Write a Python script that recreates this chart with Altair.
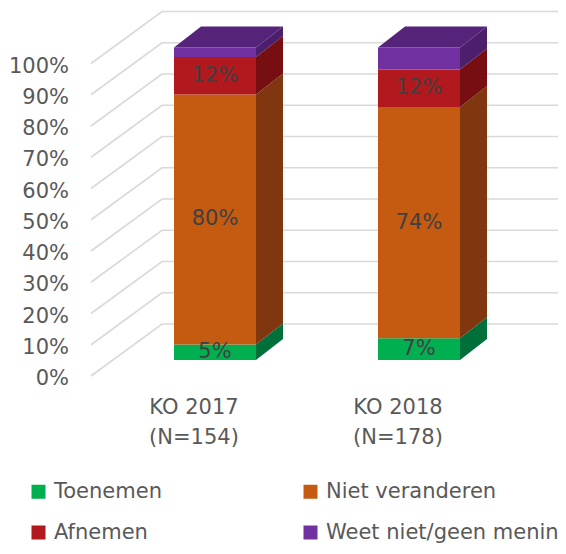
import altair as alt
import pandas as pd

# ---------------- data ----------------
groups = ["KO 2017", "KO 2018"]
n_values = ["(N=154)", "(N=178)"]
series = ["Toenemen", "Niet veranderen", "Afnemen", "Weet niet/geen mening"]
values_2017 = [5, 80, 12, 3]
values_2018 = [7, 74, 12, 7]
labelled = [True, True, True, False]
y_ticks = [0, 10, 20, 30, 40, 50, 60, 70, 80, 90, 100]

front_colors = ["#00B050", "#C55A11", "#B2191E", "#7030A0"]
side_colors = ["#00703A", "#80360E", "#770E12", "#4B1F6C"]
top_colors = ["#008440", "#92410E", "#83121A", "#55247A"]

# legend is laid out column by column: order entries so rows read like the original
legend_order = [0, 2, 1, 3]
legend_domain = [series[i] for i in legend_order]
legend_range = [front_colors[i] for i in legend_order]

# ---------------- layout (view pixels) ----------------
W, H = 550, 538
PPU = 3.125                      # pixels per percent unit
V_MAX = 352 / PPU
V_MIN = V_MAX - H / PPU
BAR_LEFT0, BAR_STEP, BAR_W = 166, 204, 82
DEPTH_X, DEPTH_V = 27, 21 / PPU
FLOOR_FRONT_X, FLOOR_BACK_X = 83, 154
FLOOR_FRONT_V, FLOOR_BACK_V = -16 / PPU, 36 / PPU
LABEL_X = 61
LABEL_SHIFT = -19 / PPU
CAT_OFFSET = -21
FONT = "DejaVu Sans"
FS = 21

all_values = [values_2017, values_2018]

front, side, top, labels, cats = [], [], [], [], []
for gi, g in enumerate(groups):
    left = BAR_LEFT0 + gi * BAR_STEP
    right = left + BAR_W
    lo = 0
    vals = all_values[gi]
    for si, s in enumerate(series):
        hi = lo + vals[si]
        key = f"{g}-{s}"
        front.append(dict(x=left, x2=right, y=lo, y2=hi, series=s))
        side.append(dict(x=right, y=hi, y2=lo, series=s, key=key))
        side.append(dict(x=right + DEPTH_X, y=hi + DEPTH_V, y2=lo + DEPTH_V, series=s, key=key))
        if si == len(series) - 1:
            top.append(dict(y=hi, x=left, x2=right, series=s, key=key))
            top.append(dict(y=hi + DEPTH_V, x=left + DEPTH_X, x2=right + DEPTH_X, series=s, key=key))
        if labelled[si]:
            labels.append(dict(x=(left + right) / 2, y=(lo + hi) / 2, text=f"{vals[si]}%"))
        lo = hi
    cx = (left + right) / 2 + CAT_OFFSET
    cats.append(dict(x=cx, y=-15.36, text=g))
    cats.append(dict(x=cx, y=-24.96, text=n_values[gi]))

grid = []
for t in y_ticks:
    grid.append(dict(x=FLOOR_FRONT_X, y=t + FLOOR_FRONT_V, tick=t, o=0))
    grid.append(dict(x=FLOOR_BACK_X, y=t + FLOOR_BACK_V, tick=t, o=1))
    grid.append(dict(x=W + 20, y=t + FLOOR_BACK_V, tick=t, o=2))
ylabels = [dict(x=LABEL_X, y=t + LABEL_SHIFT, text=f"{t}%") for t in y_ticks]

xs = alt.Scale(domain=[0, W], nice=False, zero=False)
ys = alt.Scale(domain=[V_MIN, V_MAX], nice=False, zero=False)

def X(f="x"):
    return alt.X(f"{f}:Q", scale=xs, axis=None)

def Y(f="y"):
    return alt.Y(f"{f}:Q", scale=ys, axis=None, stack=None)

grid_layer = alt.Chart(pd.DataFrame(grid)).mark_line(
    color="#D9D9D9", strokeWidth=1.6
).encode(x=X(), y=Y(), detail="tick:N", order="o:Q")

front_layer = alt.Chart(pd.DataFrame(front)).mark_rect().encode(
    x=X(), x2="x2:Q", y=Y(), y2="y2:Q",
    color=alt.Color(
        "series:N",
        scale=alt.Scale(domain=legend_domain, range=legend_range),
        legend=alt.Legend(
            title=None, orient="none", legendX=20, legendY=473, columns=2,
            columnPadding=138, rowPadding=19, symbolType="square",
            symbolSize=196, symbolStrokeWidth=0, symbolOpacity=1,
            labelFont=FONT, labelFontSize=FS, labelColor="#595959",
            labelLimit=400, labelOffset=5, padding=0,
        ),
    ),
)

side_layer = alt.Chart(pd.DataFrame(side)).mark_area(orient="vertical").encode(
    x=X(), y=Y(), y2="y2:Q", detail="key:N",
    color=alt.Color("series:N", scale=alt.Scale(domain=series, range=side_colors), legend=None),
)

top_layer = alt.Chart(pd.DataFrame(top)).mark_area(orient="horizontal").encode(
    y=Y(), x=alt.X("x:Q", scale=xs, axis=None, stack=None), x2="x2:Q", detail="key:N",
    color=alt.Color("series:N", scale=alt.Scale(domain=series, range=top_colors), legend=None),
)

label_layer = alt.Chart(pd.DataFrame(labels)).mark_text(
    font=FONT, fontSize=FS, color="#404040", align="center", baseline="middle"
).encode(x=X(), y=Y(), text="text:N")

ylabel_layer = alt.Chart(pd.DataFrame(ylabels)).mark_text(
    font=FONT, fontSize=FS, color="#595959", align="right", baseline="middle"
).encode(x=X(), y=Y(), text="text:N")

cat_layer = alt.Chart(pd.DataFrame(cats)).mark_text(
    font=FONT, fontSize=FS, color="#595959", align="center", baseline="middle"
).encode(x=X(), y=Y(), text="text:N")

chart = alt.layer(
    grid_layer, front_layer, side_layer, top_layer, label_layer, ylabel_layer, cat_layer
).resolve_scale(color="independent").properties(
    width=W, height=H, autosize=alt.AutoSizeParams(type="none"), padding=0
).configure_view(stroke=None)

chart.save("out.html", embed_options={"renderer": "svg", "actions": False})
